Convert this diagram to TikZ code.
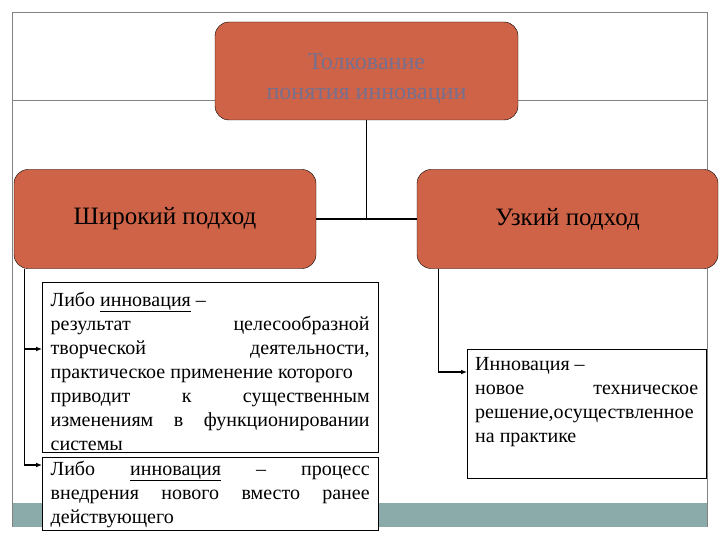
\documentclass[tikz,border=0pt]{standalone}
\usepackage{fontspec}
\setmainfont{Liberation Serif}
\usetikzlibrary{arrows.meta,positioning}
\definecolor{boxred}{RGB}{207,99,71}
\definecolor{framegray}{RGB}{130,130,130}
\definecolor{bandteal}{RGB}{138,171,170}
\definecolor{titlegray}{RGB}{118,112,142}
\tikzset{
  head/.style    = {draw=black,fill=boxred,rounded corners=14pt,align=center,
                    font=\fontsize{25}{30}\selectfont,inner sep=0pt},
  defbox/.style  = {draw=black,fill=white,align=justify,anchor=north west,
                    font=\fontsize{20}{24}\selectfont,inner xsep=8.5pt,inner ysep=0pt},
  link/.style    = {line width=1.5pt,color=black},
  arrow/.style   = {-{Latex[length=6pt,width=5pt]},line width=1.2pt,color=black},
  frameline/.style = {draw=framegray,line width=0.9pt},
}

\begin{document}
\begin{tikzpicture}[x=1pt,y=-1pt]
  \useasboundingbox (0,0) rectangle (720,540);
  % slide frame
  \fill[bandteal] (12,503) rectangle (707,527);
  \draw[frameline] (12,12) -- (707,12);
  \draw[frameline] (12,100) -- (707,100);
  \draw[frameline] (12,12) -- (12,527);
  \draw[frameline] (707,12) -- (707,527);
  % heads
  \node[head,minimum width=303pt,minimum height=98pt,
        text=titlegray,font=\fontsize{24}{30}\selectfont]
        (top) at (366.5,71) {\rule{0pt}{31pt}Толкование\\понятия инновации};
  \node[head,minimum width=302pt,minimum height=99pt] (wide) at (165,219) {Широкий подход};
  \node[head,minimum width=301pt,minimum height=99pt] (narrow) at (567.5,219) {Узкий подход};
  % definitions
  \node[defbox,text width=319pt,text height=24pt,text depth=146pt] (defA) at (42,282) {%
    Либо \underline{инновация} –\\
    результат \hfill целесообразной\\
    творческой \hfill деятельности,\\
    практическое применение которого\\
    приводит \hfill к \hfill существенным\\
    изменениям \hfill в \hfill функционировании\\
    системы};
  \node[defbox,text width=319pt,text height=18pt,text depth=55pt] (defB) at (42,457) {%
    Либо \hfill \underline{инновация} \hfill – \hfill процесс\\
    внедрения \hfill нового \hfill вместо \hfill ранее\\
    действующего};
  \node[defbox,text width=223pt,inner xsep=8pt,text height=21pt,text depth=108pt]
        (defC) at (467,349) {%
    Инновация –\\
    новое \hfill техническое\\
    решение,осуществленное\\
    на практике};
  % connectors
  \coordinate (junc) at (top.south |- wide.east);
  \draw[link] (top.south) -- (junc);
  \draw[link] (wide.east) -- (narrow.west);
  \coordinate (wstem) at ([xshift=11pt]wide.south west);
  \draw[arrow] (wstem) |- (defA.west |- 0,349);
  \draw[arrow] (wstem) |- (defB.west |- 0,465);
  \coordinate (nstem) at ([xshift=22pt]narrow.south west);
  \draw[arrow] (nstem) |- (defC.west |- 0,372);
\end{tikzpicture}
\end{document}
